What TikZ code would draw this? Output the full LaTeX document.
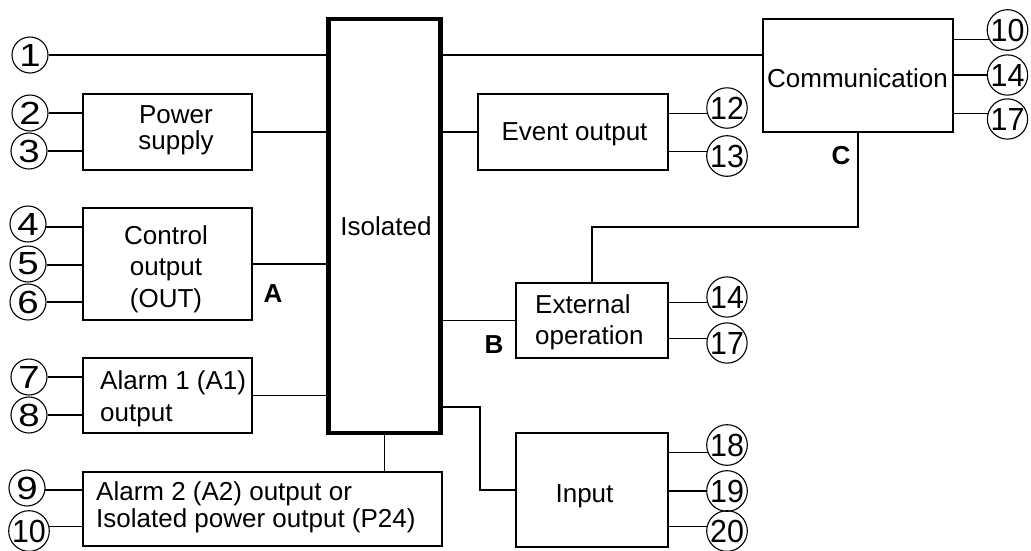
\documentclass[tikz,border=0pt]{standalone}
\usepackage{fontspec}
\setmainfont{Liberation Sans}
\begin{document}
\begin{tikzpicture}[x=1pt,y=-1pt,
  blk/.style={draw,line width=2.6pt,inner sep=0pt},
  isob/.style={draw,line width=4.6pt,inner sep=0pt},
  termc/.style={circle,draw,line width=1.1pt,minimum size=36pt,inner sep=0pt,
    font=\fontsize{32}{32}\selectfont},
  wire/.style={line width=1.3pt},
  txt/.style={inner sep=0pt,font=\fontsize{26}{26}\selectfont},
  lbl/.style={inner sep=0pt,font=\fontsize{26}{26}\selectfont\bfseries}]
\useasboundingbox (0,0) rectangle (1031,550);
\newcommand{\sd}[1]{\scalebox{1.2}[1]{#1}}
\newcommand{\dd}[1]{\scalebox{0.95}[1]{#1}}
% boxes
\node[blk,minimum width=169pt,minimum height=76pt] (ps) at (167.5,132) {};
\node[blk,minimum width=169pt,minimum height=112pt] (co) at (167.5,264) {};
\node[blk,minimum width=169pt,minimum height=75pt] (a1) at (167.5,395.5) {};
\node[blk,minimum width=359pt,minimum height=74pt] (a2) at (262.5,509) {};
\node[isob,minimum width=112pt,minimum height=414pt] (iso) at (384.5,226) {};
\node[blk,minimum width=190pt,minimum height=76pt] (ev) at (573,132) {};
\node[blk,minimum width=190pt,minimum height=113pt] (cm) at (858,75.5) {};
\node[blk,minimum width=152pt,minimum height=75pt] (ex) at (592,320.5) {};
\node[blk,minimum width=152pt,minimum height=114pt] (in) at (592,490) {};
% texts
\node[txt,align=center,font=\fontsize{26}{26}\selectfont] (tps) at (176,130.5) {Power\\supply};
\node[txt,align=center,font=\fontsize{26}{31.5}\selectfont] (tco) at (166,268.8) {Control\\output\\(OUT)};
\node[txt,anchor=base] (tiso) at (386,235) {Isolated};
\node[txt,anchor=west,align=left,font=\fontsize{26}{32}\selectfont] (ta1) at (100,399) {Alarm 1 (A1)\\output};
\node[txt,anchor=west,align=left,font=\fontsize{26}{27}\selectfont] (ta2) at (96,507) {Alarm 2 (A2) output or\\Isolated power output (P24)};
\node[txt,anchor=base] (tev) at (574.5,140) {Event output};
\node[txt,anchor=base] (tcm) at (857.5,87) {Communication};
\node[txt,anchor=west,align=left,font=\fontsize{26}{31}\selectfont] (tex) at (535,322) {External\\operation};
\node[txt,anchor=base] (tin) at (584.5,502) {Input};
\node[lbl,anchor=base] (lA) at (273,302) {A};
\node[lbl,anchor=base] (lB) at (494,353) {B};
\node[lbl,anchor=base] (lC) at (841,164) {C};
% left terminals
\node[termc] (c1) at (30,55) {\sd{1}};
\node[termc] (c2) at (30,113) {\sd{2}};
\node[termc] (c3) at (29,151) {\sd{3}};
\node[termc] (c4) at (28,224) {\sd{4}};
\node[termc] (c5) at (28,264) {\sd{5}};
\node[termc] (c6) at (28,302) {\sd{6}};
\node[termc] (c7) at (29,377) {\sd{7}};
\node[termc] (c8) at (29,415) {\sd{8}};
\node[termc] (c9) at (27,488) {\sd{9}};
\node[termc] (c10) at (29,531) {\dd{10}};
% right terminals
\node[termc] (d12) at (727,108) {\dd{12}};
\node[termc] (d13) at (727,156) {\dd{13}};
\node[termc] (d10) at (1007.5,30) {\dd{10}};
\node[termc] (d14) at (1007.5,75) {\dd{14}};
\node[termc] (d17) at (1007.5,119) {\dd{17}};
\node[termc] (e14) at (727,297) {\dd{14}};
\node[termc] (e17) at (727,343) {\dd{17}};
\node[termc] (f18) at (727,445) {\dd{18}};
\node[termc] (f19) at (727,491) {\dd{19}};
\node[termc] (f20) at (727,531) {\dd{20}};
% junctions
\coordinate (j1) at (480,407);
\coordinate (j2) at (858,227);
% wires left
\draw[wire] (c1) -- (iso.west |- c1);
\draw[wire] (iso.east |- c1) -- (cm.west |- c1);
\draw[wire] (c2) -- (ps.west |- c2);
\draw[wire] (c3) -- (ps.west |- c3);
\draw[wire] (ps.east) -- (iso.west |- ps.east);
\draw[wire] (c4.-9) -- (co.west |- c4.-9);
\draw[wire] (c5.-3) -- (co.west |- c5.-3);
\draw[wire] (c6) -- (co.west |- c6);
\draw[wire] (co.east) -- (iso.west |- co.east);
\draw[wire] (c7) -- (a1.west |- c7);
\draw[wire] (c8) -- (a1.west |- c8);
\draw[wire] (a1.east) -- (iso.west |- a1.east);
\draw[wire] (c9.-6) -- (a2.west |- c9.-6);
\draw[wire] (c10.13) -- (a2.west |- c10.13);
\draw[wire] (iso.south) -- (a2.north -| iso.south);
% wires right
\draw[wire] (iso.east |- ev.west) -- (ev.west);
\draw[wire] (ev.east |- d12.196) -- (d12.196);
\draw[wire] (ev.east |- d13.167) -- (d13.167);
\draw[wire] (cm.east |- d10.206) -- (d10.206);
\draw[wire] (cm.east |- d14.180) -- (d14.180);
\draw[wire] (cm.east |- d17.164) -- (d17.164);
\draw[wire] (cm.south) -- (j2) -| (ex.north);
\draw[wire] (iso.east |- ex.west) -- (ex.west);
\draw[wire] (ex.east |- e14.196) -- (e14.196);
\draw[wire] (ex.east |- e17.167) -- (e17.167);
\draw[wire] (iso.east |- j1) -- (j1) |- (in.west);
\draw[wire] (in.east |- f18.202) -- (f18.202);
\draw[wire] (in.east |- f19.180) -- (f19.180);
\draw[wire] (in.east |- f20.167) -- (f20.167);
\end{tikzpicture}
\end{document}
